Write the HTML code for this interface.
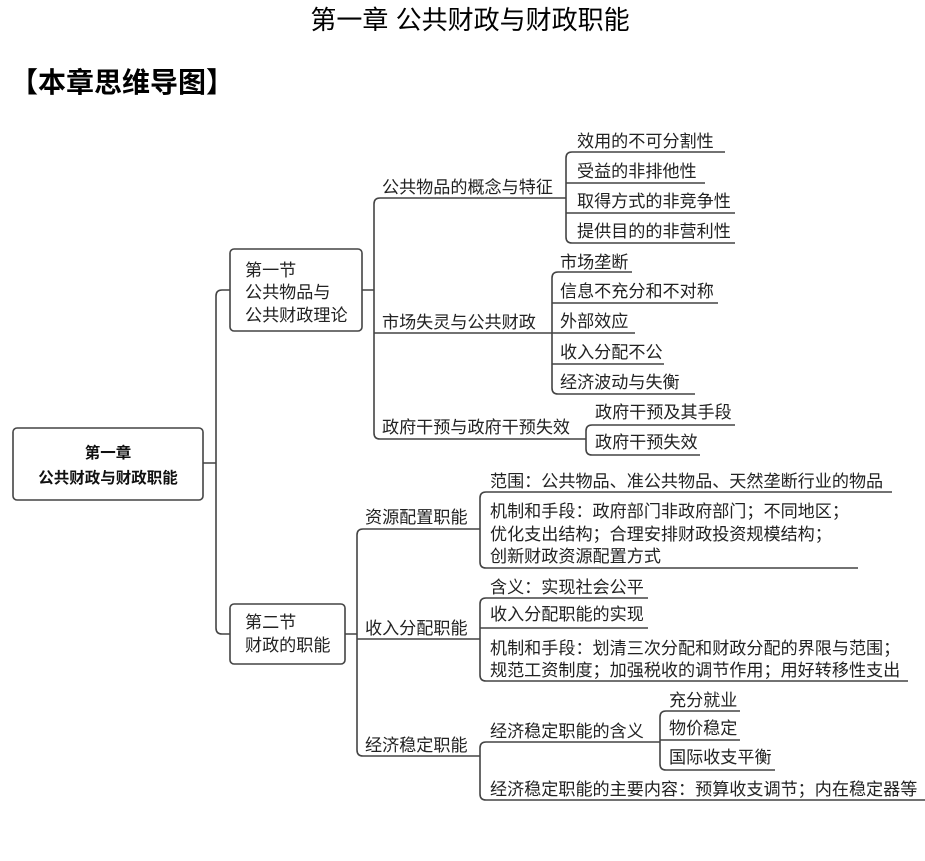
<!DOCTYPE html>
<html><head><meta charset="utf-8"><style>
html,body{margin:0;padding:0;background:#fff;width:925px;height:861px;overflow:hidden}
svg{display:block}
text{font-family:"Liberation Sans","Noto Sans CJK SC",sans-serif;fill:#222;font-size:17.1px}
</style></head><body>
<svg width="925" height="861" viewBox="0 0 925 861" xmlns="http://www.w3.org/2000/svg">
<text x="470" y="29" text-anchor="middle" style="font-size:26px;fill:#000">第一章  公共财政与财政职能</text>
<text x="10" y="92" style="font-size:28px;font-weight:bold;fill:#000">【本章思维导图】</text>
<g fill="none" stroke="#444" stroke-width="1.6">
<rect x="13" y="428" width="190" height="72" rx="4"/>
<rect x="230" y="249" width="132" height="82" rx="4"/>
<rect x="230" y="604" width="115" height="60" rx="4"/>
<path d="M203 463H216M216 296V628M216 296q0-6 6-6h8M216 628q0 6 6 6h8"/>
<path d="M362 290H374M374 204V433M374 204q0-6 6-6H566M374 433q0 6 6 6H586M374 333H552"/>
<path d="M566 158V237M566 158q0-6 6-6H725M566 237q0 6 6 6H735M566 183H705M566 213H735"/>
<path d="M552 278V388M552 278q0-6 6-6H632M552 388q0 6 6 6H695M552 303H718M552 333H635M552 364H664"/>
<path d="M586 431V449M586 431q0-6 6-6H735M586 449q0 6 6 6H700"/>
<path d="M345 634H357M357 535V750M357 535q0-6 6-6H480M357 750q0 6 6 6H480M357 639H480"/>
<path d="M480 498V562M480 498q0-6 6-6H892M480 562q0 6 6 6H858"/>
<path d="M480 604V675M480 604q0-6 6-6H648M480 675q0 6 6 6H908M480 628H648"/>
<path d="M480 748V794M480 748q0-6 6-6H660M480 794q0 6 6 6H925"/>
<path d="M660 717V764M660 717q0-6 6-6H740M660 764q0 6 6 6H775M660 740H740"/>
</g>
<text x="108" y="458" text-anchor="middle" style="font-weight:bold;font-size:15.5px;fill:#111">第一章</text>
<text x="108" y="483" text-anchor="middle" style="font-weight:bold;font-size:15.5px;fill:#111">公共财政与财政职能</text>
<text x="245" y="276">第一节</text>
<text x="245" y="298">公共物品与</text>
<text x="245" y="321">公共财政理论</text>
<text x="245" y="628">第二节</text>
<text x="245" y="651">财政的职能</text>
<text x="382" y="193">公共物品的概念与特征</text>
<text x="382" y="328">市场失灵与公共财政</text>
<text x="382" y="433">政府干预与政府干预失效</text>
<text x="577" y="147">效用的不可分割性</text>
<text x="577" y="177">受益的非排他性</text>
<text x="577" y="207">取得方式的非竞争性</text>
<text x="577" y="237">提供目的的非营利性</text>
<text x="560" y="268">市场垄断</text>
<text x="560" y="297">信息不充分和不对称</text>
<text x="560" y="327">外部效应</text>
<text x="560" y="358">收入分配不公</text>
<text x="560" y="388">经济波动与失衡</text>
<text x="595" y="418">政府干预及其手段</text>
<text x="595" y="448">政府干预失效</text>
<text x="365" y="523">资源配置职能</text>
<text x="365" y="634">收入分配职能</text>
<text x="365" y="751">经济稳定职能</text>
<text x="490" y="487">范围：公共物品、准公共物品、天然垄断行业的物品</text>
<text x="490" y="517">机制和手段：政府部门非政府部门；不同地区；</text>
<text x="490" y="540">优化支出结构；合理安排财政投资规模结构；</text>
<text x="490" y="562">创新财政资源配置方式</text>
<text x="490" y="593">含义：实现社会公平</text>
<text x="490" y="620">收入分配职能的实现</text>
<text x="490" y="654">机制和手段：划清三次分配和财政分配的界限与范围；</text>
<text x="490" y="676">规范工资制度；加强税收的调节作用；用好转移性支出</text>
<text x="490" y="737">经济稳定职能的含义</text>
<text x="669" y="706">充分就业</text>
<text x="669" y="734">物价稳定</text>
<text x="669" y="763">国际收支平衡</text>
<text x="490" y="795">经济稳定职能的主要内容：预算收支调节；内在稳定器等</text>
</svg>
</body></html>
